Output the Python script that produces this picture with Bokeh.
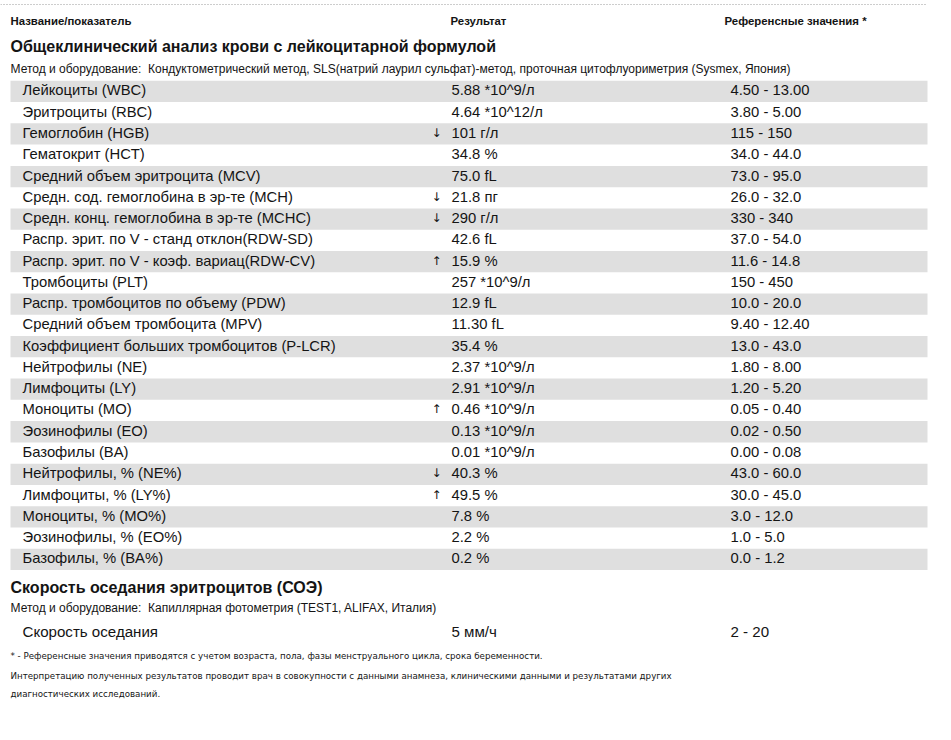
from bokeh.plotting import figure
from bokeh.models import ColumnDataSource, Range1d
from bokeh.core.properties import value
from bokeh.embed import file_html
from bokeh.resources import INLINE

# ---------------- data ----------------
header_name = "Название/показатель"
header_result = "Результат"
header_ref = "Референсные значения *"

section1_title = "Общеклинический анализ крови с лейкоцитарной формулой"
section1_method = ("Метод и оборудование:\u00a0 Кондуктометрический метод, SLS(натрий лаурил сульфат)-метод, "
                   "проточная цитофлуориметрия (Sysmex, Япония)")

names = [
    "Лейкоциты (WBC)", "Эритроциты (RBC)", "Гемоглобин (HGB)", "Гематокрит (HCT)",
    "Средний объем эритроцита (MCV)", "Средн. сод. гемоглобина в эр-те (MCH)",
    "Средн. конц. гемоглобина в эр-те (MCHC)", "Распр. эрит. по V - станд отклон(RDW-SD)",
    "Распр. эрит. по V - коэф. вариац(RDW-CV)", "Тромбоциты (PLT)",
    "Распр. тромбоцитов по объему (PDW)", "Средний объем тромбоцита (MPV)",
    "Коэффициент больших тромбоцитов (P-LCR)", "Нейтрофилы (NE)", "Лимфоциты (LY)",
    "Моноциты (MO)", "Эозинофилы (EO)", "Базофилы (BA)", "Нейтрофилы, % (NE%)",
    "Лимфоциты, % (LY%)", "Моноциты, % (MO%)", "Эозинофилы, % (EO%)", "Базофилы, % (BA%)",
]
results = [
    "5.88 *10^9/л", "4.64 *10^12/л", "101 г/л", "34.8 %", "75.0 fL", "21.8 пг", "290 г/л",
    "42.6 fL", "15.9 %", "257 *10^9/л", "12.9 fL", "11.30 fL", "35.4 %", "2.37 *10^9/л",
    "2.91 *10^9/л", "0.46 *10^9/л", "0.13 *10^9/л", "0.01 *10^9/л", "40.3 %", "49.5 %",
    "7.8 %", "2.2 %", "0.2 %",
]
flags = [
    "", "", "↓", "", "", "↓", "↓", "", "↑", "", "", "", "", "", "", "↑", "", "", "↓", "↑",
    "", "", "",
]
refs = [
    "4.50 - 13.00", "3.80 - 5.00", "115 - 150", "34.0 - 44.0", "73.0 - 95.0", "26.0 - 32.0",
    "330 - 340", "37.0 - 54.0", "11.6 - 14.8", "150 - 450", "10.0 - 20.0", "9.40 - 12.40",
    "13.0 - 43.0", "1.80 - 8.00", "1.20 - 5.20", "0.05 - 0.40", "0.02 - 0.50", "0.00 - 0.08",
    "43.0 - 60.0", "30.0 - 45.0", "3.0 - 12.0", "1.0 - 5.0", "0.0 - 1.2",
]

section2_title = "Скорость оседания эритроцитов (СОЭ)"
section2_method = "Метод и оборудование:\u00a0 Капиллярная фотометрия (TEST1, ALIFAX, Италия)"
esr_name = ["Скорость оседания"]
esr_result = ["5 мм/ч"]
esr_ref = ["2 - 20"]

note1 = "* - Референсные значения приводятся с учетом возраста, пола, фазы менструального цикла, срока беременности."
note2 = ("Интерпретацию полученных результатов проводит врач в совокупности с данными анамнеза, "
         "клиническими данными и результатами других")
note3 = "диагностических исследований."

# ---------------- layout ----------------
W, H = 935, 724
p = figure(width=W, height=H, output_backend="svg", toolbar_location=None,
           x_range=Range1d(0, W), y_range=Range1d(H, 0),
           min_border=0, outline_line_color=None, background_fill_color="white",
           border_fill_color="white")
p.xaxis.visible = False
p.yaxis.visible = False
p.grid.visible = False

FONT = value("Liberation Sans")
TXT = "#141414"
X_LEFT, X_NAME, X_FLAG, X_RES, X_REF, X_RIGHT = 10, 22, 436, 451, 730, 927
ROW0, ROW_H = 80.3, 21.27

# top dotted rule
p.line(x=[0, 927], y=[4, 4], line_color="#9a9a9a", line_width=1, line_dash="1 2")

# header
p.text(x=[X_LEFT, X_RES - 1, X_REF - 6], y=[20, 20, 20],
       text=[header_name, header_result, header_ref], text_font=FONT,
       text_font_size="11.4px", text_font_style="bold", text_color=TXT,
       text_baseline="middle", text_align="left")

# section 1 title & method
p.text(x=[X_LEFT], y=[46], text=[section1_title], text_font=FONT, text_font_size="16px",
       text_font_style="bold", text_color=TXT, text_baseline="middle")
p.text(x=[X_LEFT], y=[68], text=[section1_method], text_font=FONT, text_font_size="12px",
       text_color=TXT, text_baseline="middle")

# rows
n = len(names)
tops = [ROW0 + i * ROW_H for i in range(n)]
cy = [t + ROW_H / 2 - 1 for t in tops]
src = ColumnDataSource(dict(name=names, res=results, flag=flags, ref=refs, cy=cy))
band_idx = [i for i in range(n) if i % 2 == 0]
p.quad(left=X_LEFT, right=X_RIGHT, top=[tops[i] for i in band_idx],
       bottom=[tops[i] + ROW_H for i in band_idx], fill_color="#dfdfdf", line_color=None)

for col, x in (("name", X_NAME), ("res", X_RES), ("ref", X_REF)):
    p.text(x=x, y="cy", text=col, source=src, text_font=FONT, text_font_size="14.8px",
           text_color=TXT, text_baseline="middle")
p.text(x=X_FLAG, y="cy", text="flag", source=src, text_font=value("DejaVu Sans"),
       text_font_size="12px", text_color=TXT, text_baseline="middle", text_align="center")

# section 2
p.text(x=[X_LEFT], y=[587], text=[section2_title], text_font=FONT, text_font_size="16px",
       text_font_style="bold", text_color=TXT, text_baseline="middle")
p.text(x=[X_LEFT], y=[607], text=[section2_method], text_font=FONT, text_font_size="12px",
       text_color=TXT, text_baseline="middle")
for txt, x in ((esr_name, X_NAME), (esr_result, X_RES), (esr_ref, X_REF)):
    p.text(x=[x], y=[630.5], text=txt, text_font=FONT, text_font_size="15.1px",
           text_color=TXT, text_baseline="middle")

# notes
NOTE_FONT = value("DejaVu Sans")
p.text(x=[X_LEFT], y=[655], text=[note1], text_font=NOTE_FONT, text_font_size="8.7px",
       text_color=TXT, text_baseline="middle")
p.text(x=[X_LEFT, X_LEFT], y=[675, 693], text=[note2, note3], text_font=NOTE_FONT,
       text_font_size="8.7px", text_color=TXT, text_baseline="middle")

open("out.html", "w").write(file_html(p, INLINE))
